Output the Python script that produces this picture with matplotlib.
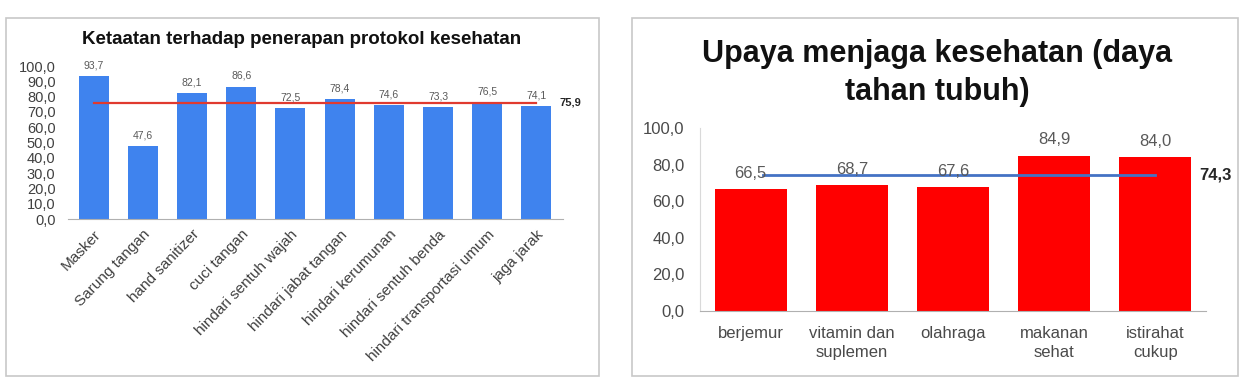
import matplotlib
matplotlib.use("Agg")
import matplotlib.pyplot as plt
from matplotlib.patches import Rectangle
from matplotlib.ticker import FuncFormatter

plt.rcParams['font.family'] = ['Liberation Sans', 'DejaVu Sans']

# ---- data ----
left_title = "Ketaatan terhadap penerapan protokol kesehatan"
left_categories = ["Masker", "Sarung tangan", "hand sanitizer", "cuci tangan",
                   "hindari sentuh wajah", "hindari jabat tangan", "hindari kerumunan",
                   "hindari sentuh benda", "hindari transportasi umum", "jaga jarak"]
left_values = [93.7, 47.6, 82.1, 86.6, 72.5, 78.4, 74.6, 73.3, 76.5, 74.1]
left_mean = 75.9
left_yticks = [0, 10, 20, 30, 40, 50, 60, 70, 80, 90, 100]

right_title = "Upaya menjaga kesehatan (daya\ntahan tubuh)"
right_categories = ["berjemur", "vitamin dan\nsuplemen", "olahraga", "makanan\nsehat", "istirahat\ncukup"]
right_values = [66.5, 68.7, 67.6, 84.9, 84.0]
right_mean = 74.3
right_yticks = [0, 20, 40, 60, 80, 100]

W, H = 1246, 378
fig = plt.figure(figsize=(W / 100, H / 100), dpi=100)

def rect(x0, y0, x1, y1):
    return [x0 / W, 1 - y1 / H, (x1 - x0) / W, (y1 - y0) / H]

comma = FuncFormatter(lambda v, p: f"{v:.1f}".replace(".", ","))
fmt = lambda v: f"{v:.1f}".replace(".", ",")

# panel borders
for (x0, y0, x1, y1) in [(6, 18, 599, 376), (632, 18, 1238, 376)]:
    fig.patches.append(Rectangle((x0 / W, 1 - y1 / H), (x1 - x0) / W, (y1 - y0) / H,
                                 transform=fig.transFigure, fill=False,
                                 edgecolor="#c8c8c8", linewidth=1.2))

# ---- left chart ----
axL = fig.add_axes(rect(68, 66, 563, 219))
xl = list(range(len(left_categories)))
axL.bar(xl, left_values, width=0.61, color="#3f83ee", zorder=2)
axL.plot([xl[0], xl[-1]], [left_mean, left_mean], color="#e03a2f", lw=1.6, zorder=3)
axL.set_xlim(-0.52, 9.54)
axL.set_ylim(0, 100)
axL.set_yticks(left_yticks)
axL.yaxis.set_major_formatter(comma)
axL.tick_params(axis='y', length=0, pad=9, labelsize=10.5, labelcolor="#404040")
axL.tick_params(axis='x', length=0, pad=6, labelsize=11, labelcolor="#404040")
axL.set_xticks(xl)
axL.set_xticklabels(left_categories, rotation=46, ha='right', rotation_mode='anchor')
for s in ["top", "right", "left"]:
    axL.spines[s].set_visible(False)
axL.spines["bottom"].set_color("#b0b0b0")
for x, v in zip(xl, left_values):
    axL.annotate(fmt(v), (x, v), xytext=(0, 4), textcoords="offset points",
                 ha='center', va='bottom', fontsize=7.5, color="#595959")
axL.text(9.47, left_mean, fmt(left_mean), ha='left', va='center', fontsize=8,
         fontweight='bold', color="#262626")
fig.text(302 / W, 1 - 39 / H, left_title, ha='center', va='center', fontsize=13.5,
         fontweight='bold', color="#111111")

# ---- right chart ----
axR = fig.add_axes(rect(700, 128, 1206, 311))
xr = list(range(len(right_categories)))
axR.bar(xr, right_values, width=0.71, color="#ff0000", zorder=2)
axR.plot([0.12, 4.0], [right_mean, right_mean], color="#4472c4", lw=2, zorder=3)
axR.set_xlim(-0.5, 4.5)
axR.set_ylim(0, 100)
axR.set_yticks(right_yticks)
axR.yaxis.set_major_formatter(comma)
axR.tick_params(axis='y', length=0, pad=11, labelsize=12, labelcolor="#4a4a4a")
axR.tick_params(axis='x', length=0, pad=11, labelsize=12, labelcolor="#4a4a4a")
axR.set_xticks(xr)
axR.set_xticklabels(right_categories, linespacing=1.35)
for s in ["top", "right"]:
    axR.spines[s].set_visible(False)
axR.spines["left"].set_color("#d9d9d9")
axR.spines["bottom"].set_color("#b0b0b0")
for x, v in zip(xr, right_values):
    axR.annotate(fmt(v), (x, v), xytext=(0, 6), textcoords="offset points",
                 ha='center', va='bottom', fontsize=12, color="#595959")
axR.text(4.43, right_mean, fmt(right_mean), ha='left', va='center', fontsize=12,
         fontweight='bold', color="#262626", clip_on=False)
fig.text(937 / W, 1 - 73 / H, right_title, ha='center', va='center', fontsize=22,
         fontweight='bold', color="#111111", linespacing=1.32)

fig.savefig("out.png", dpi=100)
